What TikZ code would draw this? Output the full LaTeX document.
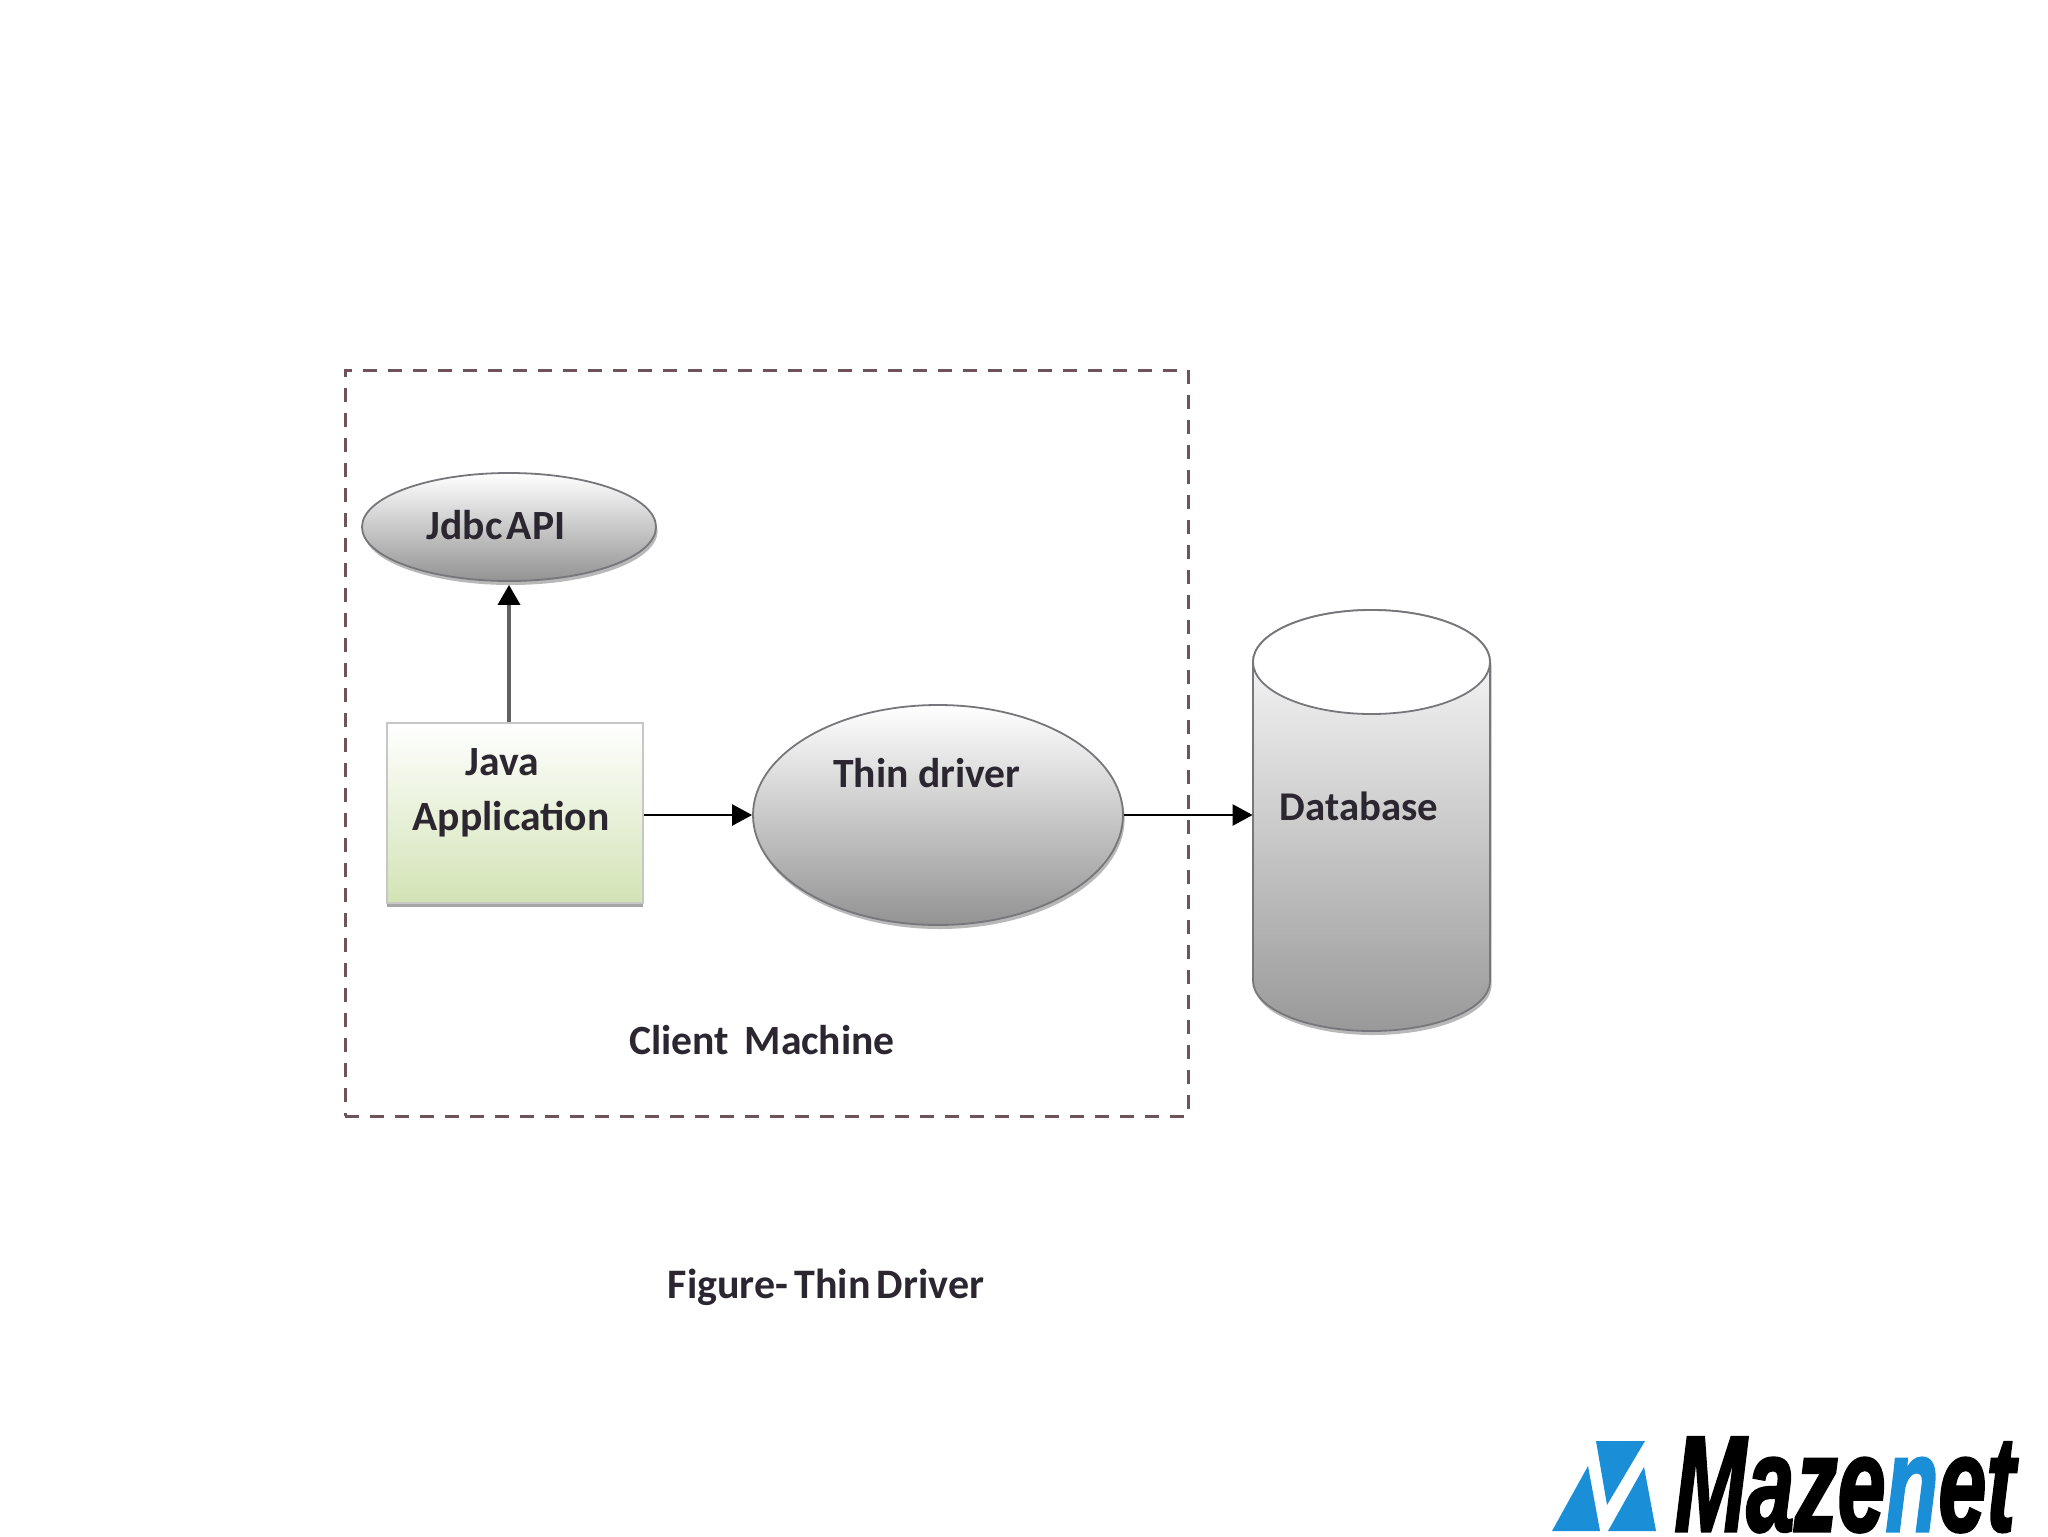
\documentclass[tikz,border=0pt]{standalone}
\usepackage{fontspec}
\usepackage{graphicx}
\setmainfont{Carlito}
\newfontfamily\logofont[BoldItalicFeatures={FakeBold=2.2}]{Liberation Sans}
\usetikzlibrary{shapes.geometric,arrows.meta,shadows,calc}
\definecolor{inkc}{HTML}{2B2630}
\definecolor{dashc}{HTML}{6E5459}
\definecolor{edgec}{HTML}{77777B}
\definecolor{logoblue}{HTML}{1A8FD8}
\definecolor{boxgreen}{HTML}{D3E3B5}
\tikzset{
  lab/.style={font=\fontsize{20.8pt}{24pt}\selectfont\bfseries, text=inkc, inner sep=0pt},
  softshadow/.style={drop shadow={shadow xshift=0.8pt,shadow yshift=-2pt,opacity=.28,fill=black}},
  grayellipse/.style={ellipse, draw=edgec, line width=0.9pt, inner sep=0pt,
     top color=white, bottom color=gray!85!white, middle color=gray!42!white, shading angle=0, softshadow},
  appbox/.style={rectangle, draw=black!22, line width=1pt, inner sep=0pt,
     top color=white, bottom color=boxgreen, drop shadow={shadow xshift=0pt,shadow yshift=-1.8pt,opacity=.35,fill=black}},
  conn/.style={-{Triangle[length=10pt,width=10.5pt]}, line width=1.3pt, draw=black},
  connup/.style={-{Triangle[length=10pt,width=11pt,color=black,fill=black]}, line width=1.8pt, draw=black!62},
  region/.style={draw=dashc, line width=1.5pt, dash pattern=on 7pt off 5.5pt},
  logomark/.style={fill=logoblue, draw=none}
}
\begin{document}
\begin{tikzpicture}[x=0.5pt,y=-0.5pt]
\useasboundingbox[fill=white] (0,0) rectangle (2048,1536);

% dashed client region
\node[region, rectangle, inner sep=0pt, minimum width=421.5pt, minimum height=373pt] (client) at (766.5,743) {};

% shapes
\node[grayellipse, minimum width=147pt, minimum height=54pt] (jdbc) at (509,527) {};
\node[appbox, minimum width=128pt, minimum height=90pt] (java) at (515,813) {};
\node[grayellipse, minimum width=185pt, minimum height=110pt] (thin) at (938,815) {};

% database cylinder
\node[inner sep=0pt, minimum width=118.5pt, minimum height=210.5pt] (db) at (1371.5,820.5) {};
\path[draw=edgec, line width=0.9pt, top color=white, bottom color=gray!80!white, softshadow]
  (1253,662) -- (1253,981) arc[x radius=59.25pt,y radius=25pt,start angle=180,end angle=360]
  -- (1490,662) arc[x radius=59.25pt,y radius=26pt,start angle=0,end angle=180] -- cycle;
\draw[edgec, line width=0.9pt, fill=white] (1371.5,662) ellipse[x radius=59.25pt,y radius=26pt];

% connectors
\draw[connup] (jdbc.south |- java.north) -- ($(jdbc.south)+(0,3)$);
\draw[conn] (thin.west -| java.east) -- (thin.west);
\coordinate (dbin) at (db.west |- thin.east);
\draw[conn] (thin.east) -- (dbin);

% labels
\node[lab] (tjdbc) at (496,525) {Jdbc\hspace{-0.12em} API};
\node[lab] (tjava) at (502,762) {Java};
\node[lab] (tapp) at (511,819) {Application};
\node[lab] (tthin) at (927,773) {Thin driver};
\node[lab, font=\fontsize{20.4pt}{24pt}\selectfont\bfseries] (tdb) at (1359,806) {Database};
\node[lab] (tclient) at (762,1040) {Client\hspace{0.15em} Machine};
\node[lab, font=\fontsize{21pt}{24pt}\selectfont\bfseries] (tfig) at (826,1287) {Figure-\hspace{-0.08em} Thin\hspace{-0.08em} Driver};

% logo
\fill[logomark] (1596,1441) -- (1645,1441) -- (1607,1505) -- cycle;
\fill[logomark] (1588,1466) -- (1600,1531) -- (1552,1531) -- cycle;
\fill[logomark] (1644,1467) -- (1656,1531) -- (1608,1531) -- cycle;
\node[anchor=base west, inner sep=0pt, text=black] (logo) at (1674,1531)
  {\scalebox{0.635}[1]{\logofont\fontsize{68pt}{70pt}\selectfont\bfseries\itshape Maze{\color{logoblue}n}et}};
\end{tikzpicture}
\end{document}
